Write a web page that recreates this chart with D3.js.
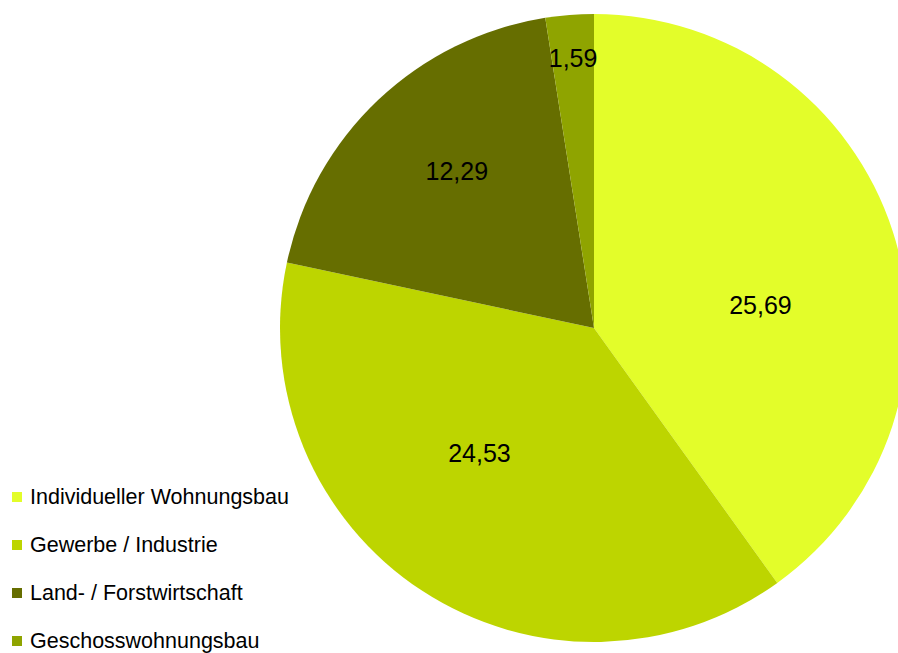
<html>
<head>
<script src="https://d3js.org/d3.v7.min.js"></script>
<style>
  body { margin: 0; background: #fff; }
  text { font-family: "Liberation Sans", Arial, sans-serif; }
</style>
</head>
<body>
<script>
// chart data
const categories = ["Individueller Wohnungsbau", "Gewerbe / Industrie", "Land- / Forstwirtschaft", "Geschosswohnungsbau"];
const values = [25.69, 24.53, 12.29, 1.59];
const labels = ["25,69", "24,53", "12,29", "1,59"];
const colors = ["#e3fd2a", "#bdd500", "#666e00", "#8fa400"];

const canvasW = 898, canvasH = 653;
const cx = 594, cy = 328, r = 314;

const svg = d3.select("body").append("svg")
  .attr("width", canvasW)
  .attr("height", canvasH);

const pie = d3.pie().sort(null).value(d => d)(values);
const arc = d3.arc().innerRadius(0).outerRadius(r);

const g = svg.append("g").attr("transform", `translate(${cx},${cy})`);

g.selectAll("path")
  .data(pie)
  .enter()
  .append("path")
  .attr("d", arc)
  .attr("fill", (d, i) => colors[i]);

// labels: smaller slices sit further out
g.selectAll("text")
  .data(pie)
  .enter()
  .append("text")
  .attr("text-anchor", "middle")
  .attr("dominant-baseline", "central")
  .attr("font-size", "25px")
  .attr("fill", "#000")
  .attr("transform", d => {
    let span = (d.endAngle - d.startAngle) * 180 / Math.PI;
    let a = (d.startAngle + d.endAngle) / 2 + (0.07 * span * span / 144) * Math.PI / 180;
    let rr = r * (0.52 + 0.38 * Math.pow(1 - span / 180, 2));
    return `translate(${rr * Math.sin(a)},${-rr * Math.cos(a)})`;
  })
  .text((d, i) => labels[i]);

// legend
const legend = svg.append("g");
const rows = legend.selectAll("g")
  .data(categories)
  .enter()
  .append("g")
  .attr("transform", (d, i) => `translate(12,${497 + i * 48})`);

rows.append("rect")
  .attr("x", 0)
  .attr("y", -5)
  .attr("width", 10)
  .attr("height", 10)
  .attr("fill", (d, i) => colors[i]);

rows.append("text")
  .attr("x", 18)
  .attr("dominant-baseline", "central")
  .attr("font-size", "21.5px")
  .attr("fill", "#000")
  .text(d => d);
</script>
</body>
</html>
